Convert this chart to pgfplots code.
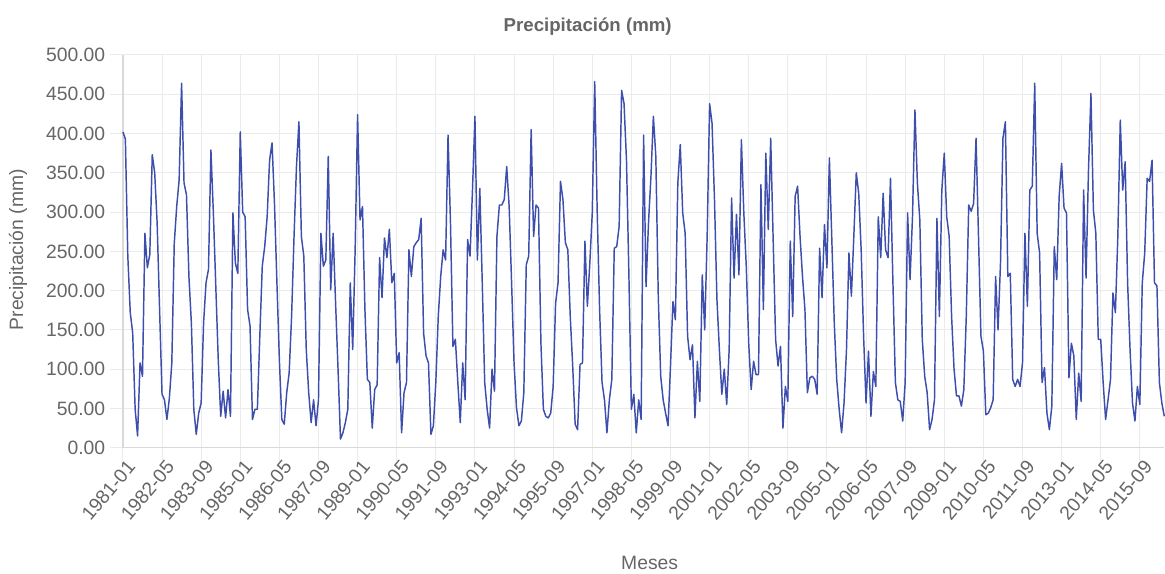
\documentclass[border=0pt]{standalone}
\usepackage{pgfplots}
\pgfplotsset{compat=1.18}
\usepackage{fontspec}
\setmainfont{Liberation Sans}
\definecolor{txt}{HTML}{666666}
\definecolor{gridc}{HTML}{EBEBEB}
\definecolor{axisc}{HTML}{D9D9D9}
\definecolor{serie}{RGB}{62,78,172}

\pgfplotstableread{
i v
0 402
1 393
2 244
3 172
4 146
5 49
6 15
7 108
8 91
9 273
10 229
11 246
12 373
13 350
14 286
15 176
16 68
17 61
18 36
19 63
20 108
21 260
22 307
23 341
24 464
25 337
26 322
27 218
28 159
29 49
30 17
31 44
32 57
33 159
34 210
35 227
36 379
37 299
38 205
39 112
40 40
41 72
42 38
43 74
44 40
45 299
46 235
47 222
48 402
49 300
50 294
51 176
52 155
53 36
54 49
55 49
56 142
57 231
58 256
59 294
60 366
61 388
62 311
63 210
64 112
65 36
66 30
67 70
68 95
69 167
70 269
71 358
72 415
73 269
74 244
75 125
76 70
77 32
78 61
79 28
80 61
81 273
82 231
83 239
84 371
85 201
86 273
87 184
88 100
89 11
90 19
91 32
92 49
93 210
94 125
95 252
96 424
97 290
98 307
99 176
100 87
101 83
102 25
103 74
104 80
105 242
106 191
107 267
108 242
109 278
110 210
111 222
112 108
113 121
114 19
115 70
116 83
117 252
118 218
119 256
120 261
121 265
122 292
123 146
124 117
125 108
126 17
127 28
128 83
129 167
130 218
131 252
132 239
133 398
134 286
135 129
136 138
137 83
138 32
139 108
140 61
141 265
142 244
143 328
144 422
145 239
146 330
147 210
148 83
149 49
150 25
151 100
152 72
153 269
154 309
155 309
156 316
157 358
158 307
159 210
160 108
161 51
162 28
163 34
164 70
165 233
166 244
167 405
168 269
169 309
170 305
171 133
172 49
173 40
174 38
175 44
176 78
177 184
178 210
179 339
180 316
181 261
182 252
183 167
184 104
185 30
186 23
187 106
188 108
189 263
190 180
191 235
192 299
193 466
194 303
195 176
196 83
197 61
198 19
199 61
200 87
201 254
202 256
203 282
204 455
205 438
206 366
207 218
208 49
209 68
210 19
211 61
212 36
213 398
214 205
215 286
216 345
217 422
218 371
219 193
220 91
221 61
222 44
223 28
224 104
225 186
226 163
227 337
228 386
229 299
230 273
231 142
232 112
233 131
234 38
235 110
236 59
237 220
238 150
239 269
240 438
241 413
242 316
243 189
244 125
245 68
246 100
247 55
248 125
249 318
250 216
251 297
252 220
253 392
254 299
255 231
256 133
257 74
258 110
259 93
260 93
261 335
262 176
263 375
264 278
265 394
266 265
267 138
268 104
269 129
270 25
271 78
272 59
273 263
274 167
275 320
276 333
277 269
278 218
279 176
280 70
281 89
282 91
283 87
284 68
285 254
286 191
287 284
288 229
289 369
290 265
291 159
292 87
293 49
294 19
295 57
296 125
297 248
298 193
299 269
300 350
301 324
302 252
303 142
304 57
305 123
306 40
307 97
308 78
309 294
310 242
311 324
312 252
313 242
314 343
315 210
316 83
317 61
318 59
319 34
320 83
321 299
322 214
323 294
324 430
325 337
326 290
327 138
328 91
329 70
330 23
331 36
332 61
333 292
334 167
335 328
336 375
337 294
338 269
339 167
340 100
341 66
342 66
343 53
344 74
345 167
346 309
347 301
348 311
349 394
350 269
351 142
352 123
353 42
354 44
355 51
356 61
357 218
358 150
359 235
360 394
361 415
362 218
363 222
364 87
365 78
366 87
367 78
368 108
369 273
370 180
371 328
372 333
373 464
374 273
375 248
376 83
377 102
378 44
379 23
380 53
381 256
382 214
383 320
384 362
385 305
386 299
387 89
388 133
389 117
390 36
391 95
392 59
393 328
394 216
395 354
396 451
397 303
398 273
399 138
400 138
401 83
402 36
403 61
404 87
405 197
406 172
407 269
408 417
409 328
410 364
411 210
412 125
413 57
414 34
415 78
416 55
417 210
418 248
419 343
420 339
421 366
422 210
423 206
424 83
425 57
426 40
}\precip

\begin{document}
\begin{tikzpicture}
\begin{axis}[
    at={(0,0)}, anchor=south west,
    scale only axis,
    width=781.5pt, height=294.75pt,
    xmin=0, xmax=426, ymin=0, ymax=500,
    axis x line*=bottom, axis y line*=left,
    axis line style={axisc, line width=0.9pt},
    xtick={0,16,...,416},
    xticklabels={1981-01,1982-05,1983-09,1985-01,1986-05,1987-09,1989-01,1990-05,1991-09,1993-01,1994-05,1995-09,1997-01,1998-05,1999-09,2001-01,2002-05,2003-09,2005-01,2006-05,2007-09,2009-01,2010-05,2011-09,2013-01,2014-05,2015-09},
    ytick={0,50,...,500},
    grid=major,
    major grid style={gridc, line width=0.75pt},
    tick align=outside,
    major tick length=9.75pt,
    tick style={gridc, line width=0.75pt},
    /pgf/number format/assume math mode=true,
    yticklabel={\pgfmathprintnumber[fixed,fixed zerofill,precision=2]{\tick}},
    ticklabel style={font=\fontsize{14.5}{17}\selectfont, text=txt},
    xticklabel style={rotate=50, anchor=east, xshift=6pt, yshift=-6pt},
    every axis title shift=0pt,
    title={Precipitación (mm)},
    title style={at={(axis description cs:0.4463,1.0712)}, anchor=center,
        font=\fontsize{14}{17}\selectfont\bfseries, text=txt},
    xlabel={Meses},
    xlabel style={at={(axis description cs:0.5058,-0.2926)}, anchor=center,
        font=\fontsize{14.5}{17}\selectfont, text=txt},
    ylabel={Precipitación (mm)},
    ylabel style={at={(axis description cs:-0.1008,0.504)}, anchor=center,
        font=\fontsize{14.5}{17}\selectfont, text=txt},
    clip=false,
]
\addplot[serie, line width=1.1pt, mark=none, line join=round] table[x=i, y=v] {\precip};
\end{axis}
\path[use as bounding box] (-92.25pt,-92.25pt) rectangle (781.5pt,336pt);
\end{tikzpicture}
\end{document}
